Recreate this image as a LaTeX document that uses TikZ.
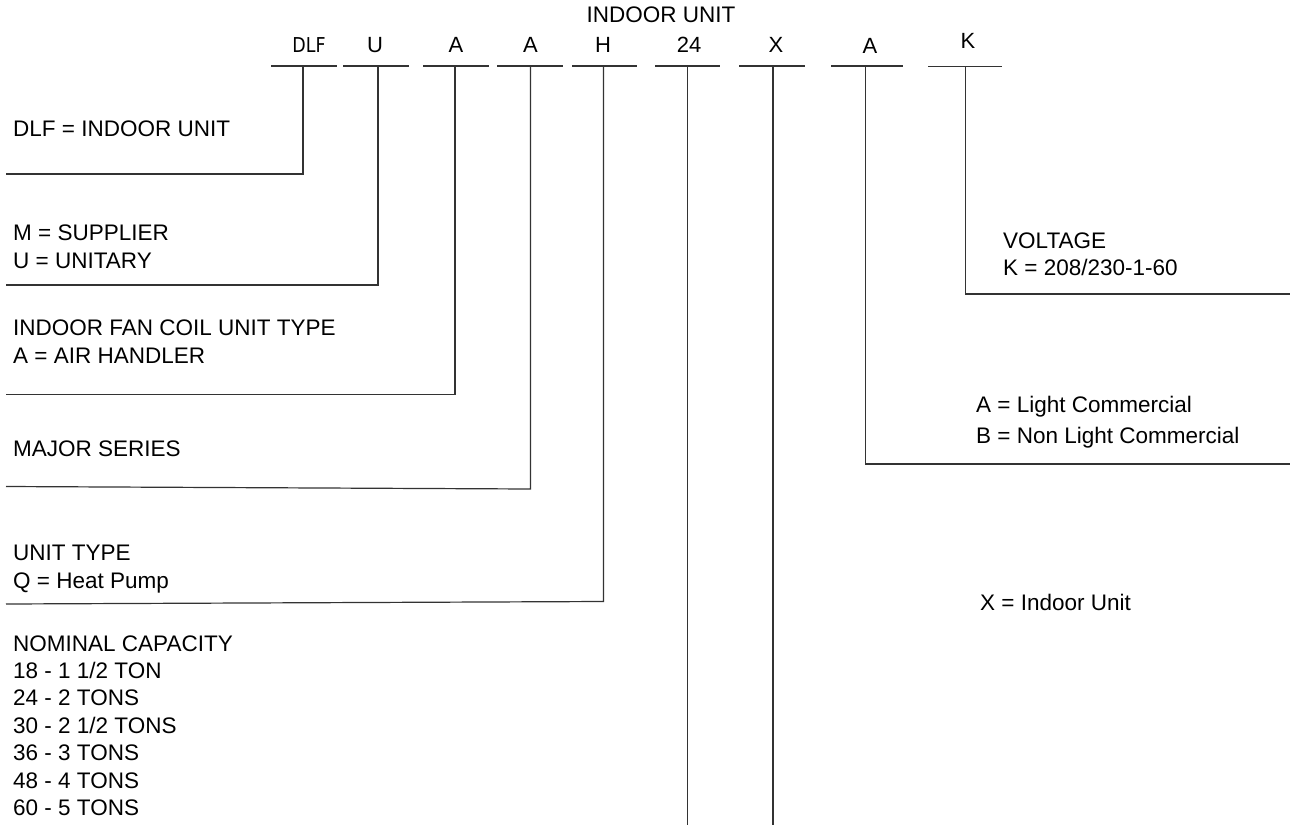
\documentclass[tikz,border=0pt]{standalone}
\usepackage{fontspec}
\setmainfont{Liberation Sans}
\newfontfamily\dlffont[FakeStretch=0.85]{DejaVu Sans}
\begin{document}
\begin{tikzpicture}[x=1pt,y=-1pt,
  lbl/.style={anchor=base west, inner sep=0pt, font=\fontsize{22.5}{27.5}\selectfont},
  hdr/.style={anchor=base, inner sep=0pt, font=\fontsize{22}{26}\selectfont},
  ln/.style={line width=1.2pt, draw=black!80}]
\useasboundingbox (0,0) rectangle (1294,825);

% header
\node[hdr,font=\fontsize{22.5}{26}\selectfont] (title) at (661,22) {INDOOR UNIT};
\node[hdr,font=\fontsize{20.5}{24}\dlffont] (hDLF) at (309,52.5) {DLF};
\node[hdr] (hU)  at (375,52.5) {U};
\node[hdr] (hA1) at (456,52.5) {A};
\node[hdr] (hA2) at (530.5,52.5) {A};
\node[hdr] (hH)  at (603,52.5) {H};
\node[hdr] (h24) at (689,52.5) {24};
\node[hdr] (hX)  at (776,52.5) {X};
\node[hdr] (hA3) at (870,53.3) {A};
\node[hdr] (hK)  at (968,48.5) {K};

% underlines and tap points
\foreach \n/\l/\r/\t/\y in {DLF/271/337/303/66, U/343/409/378/66, A1/423/489/455/66,
  A2/497/563/530.5/66, H/572/637/603.5/66, N24/655/720/687.3/66, X/739/805/773/66,
  A3/831/903/865.7/66, K/928/1002/965.3/66.5}{
  \coordinate (ul\n) at (\l,\y);
  \coordinate (ur\n) at (\r,\y);
  \coordinate (t\n) at (\t,\y);
  \draw[ln] (ul\n) -- (ur\n);
}

% connector ends
\coordinate (eDLF) at (6,174);
\coordinate (eU) at (6,285);
\coordinate (eA1) at (6,394.5);
\coordinate (cA2) at (530.5,489);
\coordinate (eA2) at (6,486.5);
\coordinate (cH) at (603.5,601.5);
\coordinate (eH) at (6,604);
\coordinate (eN24) at (687.3,825);
\coordinate (eX) at (773,825);
\coordinate (eA3) at (1290,464);
\coordinate (eK) at (1290,294);

\draw[ln] (tDLF) |- (eDLF);
\draw[ln] (tU) |- (eU);
\draw[ln] (tA1) |- (eA1);
\draw[ln] (tA2) -- (cA2) -- (eA2);
\draw[ln] (tH) -- (cH) -- (eH);
\draw[ln] (tN24) -- (eN24);
\draw[ln] (tX) -- (eX);
\draw[ln] (tA3) |- (eA3);
\draw[ln] (tK) |- (eK);

% left labels
\node[lbl] (dlf) at (13,136) {DLF = INDOOR UNIT};
\node[lbl] (sup1) at (13,240) {M = SUPPLIER};
\node[lbl] (sup2) at (13,268) {U = UNITARY};
\node[lbl] (fan1) at (13,335) {INDOOR FAN COIL UNIT TYPE};
\node[lbl] (fan2) at (13,363) {A = AIR HANDLER};
\node[lbl] (maj) at (13,456) {MAJOR SERIES};
\node[lbl] (ut1) at (13,560) {UNIT TYPE};
\node[lbl] (ut2) at (13,588) {Q = Heat Pump};
\node[lbl] (cap0) at (13,651) {NOMINAL CAPACITY};
\node[lbl] (cap1) at (13,678.4) {18 - 1 1/2 TON};
\node[lbl] (cap2) at (13,705.8) {24 - 2 TONS};
\node[lbl] (cap3) at (13,733.2) {30 - 2 1/2 TONS};
\node[lbl] (cap4) at (13,760.6) {36 - 3 TONS};
\node[lbl] (cap5) at (13,788) {48 - 4 TONS};
\node[lbl] (cap6) at (13,815.4) {60 - 5 TONS};

% right labels
\node[lbl] (volt1) at (1003,248) {VOLTAGE};
\node[lbl] (volt2) at (1003,275) {K = 208/230-1-60};
\node[lbl] (com1) at (976,412) {A = Light Commercial};
\node[lbl] (com2) at (976,443) {B = Non Light Commercial};
\node[lbl] (ind) at (980,610) {X = Indoor Unit};
\end{tikzpicture}
\end{document}
